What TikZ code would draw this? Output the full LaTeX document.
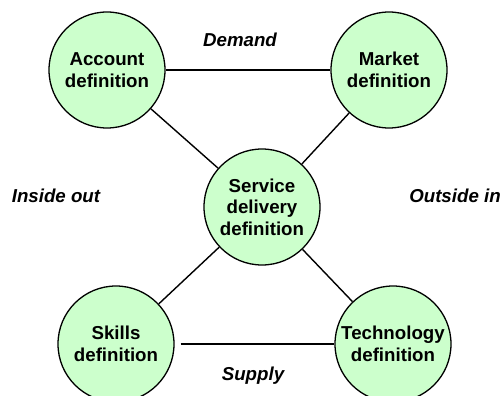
\documentclass[tikz,border=0pt]{standalone}
\usepackage{fontspec}
\setmainfont{Liberation Sans}
\definecolor{circfill}{HTML}{CCFFCC}
\begin{document}
\begin{tikzpicture}[x=1pt,y=-1pt,
  circ/.style={circle,draw=black,line width=1.3pt,fill=circfill,minimum size=116pt,inner sep=0pt,
    align=center,font=\fontsize{18.7}{21.5}\selectfont\bfseries},
  conn/.style={line width=1.4pt},
  lbl/.style={anchor=base,inner sep=0pt,font=\fontsize{18.7}{21.5}\selectfont\bfseries\itshape}]
\useasboundingbox (0,0) rectangle (504,396);
\node[circ] (A) at (107,70) {Account\\definition};
\node[circ] (M) at (389,70) {Market\\definition};
\node[circ] (S) at (262,207) {Service\\delivery\\definition};
\node[circ] (K) at (116,344) {Skills\\definition};
\node[circ] (T) at (393,344) {Technology\\definition};
\draw[conn] (A) -- (M);
\draw[conn] (A) -- (S);
\draw[conn] (M) -- (S);
\draw[conn] (S) -- (K);
\draw[conn] (S) -- (T);
\draw[conn,shorten <=6pt] (K) -- (T);
\node[lbl] (dem) at (240,47) {Demand};
\node[lbl] (ins) at (56,202) {Inside out};
\node[lbl] (out) at (455,202) {Outside in};
\node[lbl] (sup) at (253,380) {Supply};
\end{tikzpicture}
\end{document}
